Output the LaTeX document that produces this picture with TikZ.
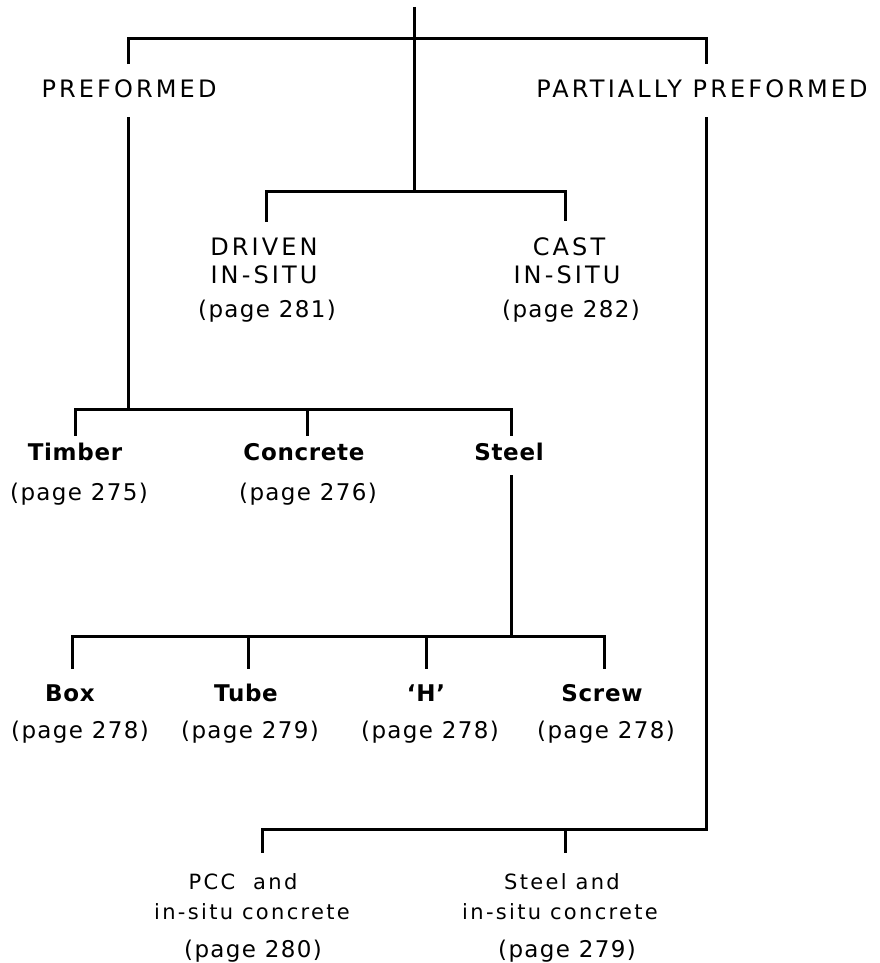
\documentclass[tikz,border=0pt]{standalone}
\usepackage{fontspec}
\newfontfamily\capsfont[LetterSpace=13]{DejaVu Sans}
\newfontfamily\namefont[LetterSpace=3]{DejaVu Sans}
\newfontfamily\reffont[LetterSpace=6]{DejaVu Sans}
\newfontfamily\plainfont[LetterSpace=11]{DejaVu Sans}
\begin{document}
\begin{tikzpicture}[x=1pt,y=-1pt,line width=3pt,line join=miter,
  every node/.style={inner sep=0pt,outer sep=0pt,anchor=base},
  capslbl/.style={font=\capsfont\fontsize{24}{28}\selectfont},
  namelbl/.style={font=\namefont\bfseries\fontsize{23}{27}\selectfont},
  reflbl/.style={font=\reffont\fontsize{23}{27}\selectfont},
  plainlbl/.style={font=\plainfont\fontsize{21}{25}\selectfont}]
\useasboundingbox (0,0) rectangle (879,963);

% labels
\node[capslbl] (pre) at (129,98) {PREFORMED};
\node[capslbl] (ppre) at (702,98) {PARTIALLY PREFORMED};
\node[capslbl] (driven) at (264,255) {DRIVEN};
\node[capslbl] (drivenb) at (264,283) {IN-SITU};
\node[reflbl] (drivenp) at (267,317) {(page 281)};
\node[capslbl] (cast) at (569,255) {CAST};
\node[capslbl] (castb) at (567,283) {IN-SITU};
\node[reflbl] (castp) at (571,317) {(page 282)};
\node[namelbl] (timber) at (75,460) {Timber};
\node[reflbl] (timberp) at (79,500) {(page 275)};
\node[namelbl] (concrete) at (304,460) {Concrete};
\node[reflbl] (concretep) at (308,500) {(page 276)};
\node[namelbl] (steel) at (509,460) {Steel};
\node[namelbl] (box) at (70,701) {Box};
\node[reflbl] (boxp) at (80,738) {(page 278)};
\node[namelbl] (tube) at (246,701) {Tube};
\node[reflbl] (tubep) at (250,738) {(page 279)};
\node[namelbl] (hsec) at (426,701) {‘H’};
\node[reflbl] (hsecp) at (430,738) {(page 278)};
\node[namelbl] (screw) at (602,701) {Screw};
\node[reflbl] (screwp) at (606,738) {(page 278)};
\node[plainlbl] (pcc) at (243,889) {PCC\ \ and};
\node[plainlbl] (pccb) at (252,919) {in-situ concrete};
\node[reflbl] (pccp) at (253,957) {(page 280)};
\node[plainlbl] (stc) at (562,889) {Steel and};
\node[plainlbl] (stcb) at (560,919) {in-situ concrete};
\node[reflbl] (stcp) at (567,957) {(page 279)};

% junction coordinates
\coordinate (root) at (414,7);
\coordinate (midj) at (414,191);
\coordinate (tl) at (128,39);
\coordinate (tr) at (706,39);
\coordinate (ml) at (266,191);
\coordinate (mr) at (565,191);
\coordinate (pj) at (128,409);
\coordinate (pl) at (75,409);
\coordinate (pm) at (307,409);
\coordinate (pr) at (511,409);
\coordinate (sj) at (511,636);
\coordinate (s1) at (72,636);
\coordinate (s2) at (248,636);
\coordinate (s3) at (426,636);
\coordinate (s4) at (604,636);
\coordinate (cj) at (706,829);
\coordinate (c1) at (262,829);
\coordinate (c2) at (565,829);

% top level
\draw (root) -- (midj);
\draw[shorten <=16pt,shorten >=16pt] (tl |- pre.north) -- (tl) -- (tr) -- (tr |- ppre.north);
% preformed branch
\draw[shorten <=19pt] (tl |- pre.south) -- (pj);
\draw[shorten <=7pt,shorten >=7pt] (pl |- timber.north) -- (pl) -- (pr) -- (pr |- steel.north);
\draw[shorten >=7pt] (pm) -- (pm |- concrete.north);
% driven / cast
\draw[shorten <=16pt,shorten >=16pt] (ml |- driven.north) -- (ml) -- (mr) -- (mr |- cast.north);
% steel branch
\draw[shorten <=15pt] (pr |- steel.south) -- (sj);
\draw[shorten <=15pt,shorten >=15pt] (s1 |- box.north) -- (s1) -- (s4) -- (s4 |- screw.north);
\draw[shorten >=15pt] (s2) -- (s2 |- tube.north);
\draw[shorten >=15pt] (s3) -- (s3 |- hsec.north);
% partially preformed branch
\draw[shorten <=19pt,shorten >=20pt] (tr |- ppre.south) -- (cj) -- (c1) -- (c1 |- pcc.north);
\draw[shorten >=20pt] (c2) -- (c2 |- stc.north);
\end{tikzpicture}
\end{document}
